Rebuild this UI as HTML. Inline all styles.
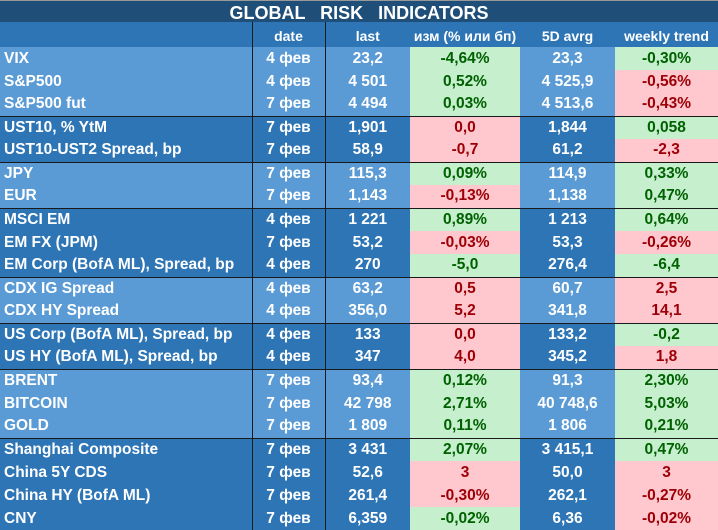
<!DOCTYPE html>
<html><head><meta charset="utf-8">
<style>
body{margin:0;width:718px;height:526px;overflow:hidden;background:#fff;font-family:"Liberation Sans","DejaVu Sans",sans-serif;font-weight:bold;}
#title{position:absolute;left:0;top:0;width:718px;height:22px;background:#1f4e79;color:#fff;font-size:18px;line-height:24px;text-align:center;word-spacing:10px;border-top:1px solid #999;box-sizing:border-box}
table{position:absolute;left:0;top:22px;border-collapse:collapse;table-layout:fixed;width:718px}
td{height:23px;padding:0;font-size:15.5px;color:#fff;text-align:center;white-space:nowrap;overflow:hidden;line-height:20px;box-sizing:border-box}
td.n{text-align:left;padding-left:4px}
tr.h td{background:#2e75b6;font-size:14px;height:25px;padding-top:2px}
.L td{background:#5b9bd5}.D td{background:#2e75b6}
td.g{background:#c6efce!important;color:#006100}
td.r{background:#ffc7ce!important;color:#9c0006}
.c1{border-right:1px solid #1a1a1a}.c2{border-right:1px solid #1a1a1a}
tr.top td{border-top:1.5px solid #1a1a1a}
</style></head><body>
<div id="title">GLOBAL RISK INDICATORS</div>
<table>
<colgroup><col style="width:252px"><col style="width:73px"><col style="width:85px"><col style="width:110px"><col style="width:95px"><col style="width:103px"></colgroup>
<tbody id="tb">
<tr class="h"><td class="c1"></td><td class="c2">date</td><td>last</td><td>изм (% или бп)</td><td>5D avrg</td><td>weekly trend</td></tr>
</tbody></table>
<script>
const names=["VIX","S&P500","S&P500 fut","UST10, % YtM","UST10-UST2 Spread, bp","JPY","EUR","MSCI EM","EM FX (JPM)","EM Corp (BofA ML), Spread, bp","CDX IG Spread","CDX HY Spread","US Corp (BofA ML), Spread, bp","US HY (BofA ML), Spread, bp","BRENT","BITCOIN","GOLD","Shanghai Composite","China 5Y CDS","China HY (BofA ML)","CNY"];
const dates=["4 фев","4 фев","7 фев","7 фев","7 фев","7 фев","7 фев","4 фев","7 фев","4 фев","4 фев","4 фев","4 фев","4 фев","7 фев","7 фев","7 фев","7 фев","7 фев","7 фев","7 фев"];
const lasts=["23,2","4 501","4 494","1,901","58,9","115,3","1,143","1 221","53,2","270","63,2","356,0","133","347","93,4","42 798","1 809","3 431","52,6","261,4","6,359"];
const changes=["-4,64%","0,52%","0,03%","0,0","-0,7","0,09%","-0,13%","0,89%","-0,03%","-5,0","0,5","5,2","0,0","4,0","0,12%","2,71%","0,11%","2,07%","3","-0,30%","-0,02%"];
const changeCls=["g","g","g","r","r","g","r","g","r","g","r","r","r","r","g","g","g","g","r","r","g"];
const avgs=["23,3","4 525,9","4 513,6","1,844","61,2","114,9","1,138","1 213","53,3","276,4","60,7","341,8","133,2","345,2","91,3","40 748,6","1 806","3 415,1","50,0","262,1","6,36"];
const weekly=["-0,30%","-0,56%","-0,43%","0,058","-2,3","0,33%","0,47%","0,64%","-0,26%","-6,4","2,5","14,1","-0,2","1,8","2,30%","5,03%","0,21%","0,47%","3","-0,27%","-0,02%"];
const weeklyCls=["g","r","r","g","r","g","g","g","r","g","r","r","g","r","g","g","g","g","r","r","r"];
const groups=[0,0,0,1,1,2,2,3,3,3,4,4,5,5,6,6,6,7,7,7,7];
const tb=document.getElementById('tb');
names.forEach((n,i)=>{
  const tr=document.createElement('tr');
  
  
  tr.className=(groups[i]%2?'D':'L')+(i>0&&groups[i]!==groups[i-1]?' top':'');
  const cells=[[n,'n c1'],[dates[i],'c2'],[lasts[i],''],[changes[i],changeCls[i]],[avgs[i],''],[weekly[i],weeklyCls[i]]];
  const cn=['name-cell','date-cell','last-cell','change-cell','avg-cell','weekly-trend-cell'];
  cells.forEach((c,j)=>{
    const td=document.createElement('td');
    td.textContent=c[0];td.className=c[1];
    
    
    tr.appendChild(td);
  });
  tb.appendChild(tr);
});
</script>
</body></html>
